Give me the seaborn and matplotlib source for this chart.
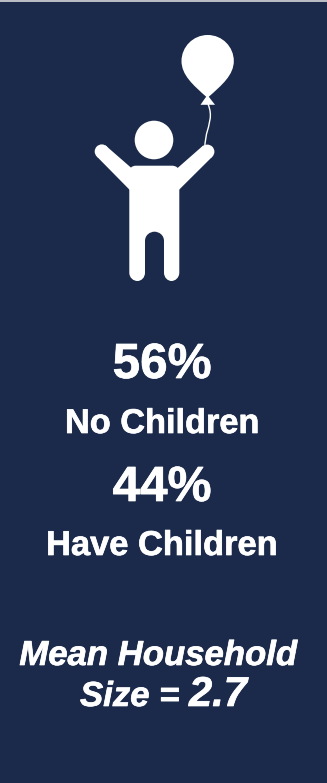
import matplotlib
matplotlib.use("Agg")
import matplotlib.pyplot as plt
import matplotlib.patheffects as pe
from matplotlib.patches import Circle, PathPatch, Polygon, Rectangle
from matplotlib.path import Path
import seaborn as sns

# Household figures shown on the panel
share_values = [56, 44]
share_labels = ["No Children", "Have Children"]
mean_household_size = 2.7

NAVY = "#1b2a4a"
WHITE = "#ffffff"

sns.set_theme(style="white")
plt.rcParams["font.family"] = ["Liberation Sans", "DejaVu Sans"]

fig = plt.figure(figsize=(3.27, 7.83), dpi=100, facecolor=NAVY)
ax = fig.add_axes([0, 0, 1, 1])
ax.set_xlim(0, 327)
ax.set_ylim(783, 0)
ax.set_facecolor(NAVY)
ax.axis("off")

# thin light rule along the top edge
ax.add_patch(Rectangle((0, 0), 327, 1.6, fc="#b9bcc2", ec="none"))


def blob(points, **kw):
    """Add a filled shape from (code, x, y) triples."""
    codes = [c for c, _, _ in points]
    verts = [(x, y) for _, x, y in points]
    ax.add_patch(PathPatch(Path(verts, codes), fc=WHITE, ec="none", **kw))


M, L, C, Z = Path.MOVETO, Path.LINETO, Path.CURVE4, Path.CLOSEPOLY

# child: head
ax.add_patch(Circle((154, 140), 19.3, fc=WHITE, ec="none"))

# child: raised arms, widening slightly towards the shoulders
ax.add_patch(Circle((101.8, 151.5), 7.1, fc=WHITE, ec="none"))
ax.add_patch(Polygon([(105.5, 145.4), (132, 168.5), (132, 192), (129.3, 189.5), (96.8, 156.5)],
                     closed=True, fc=WHITE, ec="none"))
ax.add_patch(Circle((207.3, 151.7), 7.1, fc=WHITE, ec="none"))
ax.add_patch(Polygon([(203.3, 145.4), (177, 168.5), (177, 192), (179.3, 189.5), (212.3, 156.7)],
                     closed=True, fc=WHITE, ec="none"))

# child: torso and legs with a rounded gap between them
blob([
    (M, 129.3, 172), (C, 129.3, 168), (C, 132, 165.7), (C, 136, 165.7),
    (L, 172, 165.7), (C, 176, 165.7), (C, 179.3, 168), (C, 179.3, 172),
    (L, 179.3, 272.5), (C, 179.3, 278), (C, 175, 281), (C, 171.5, 281),
    (C, 168, 281), (C, 164, 278), (C, 164, 272.5),
    (L, 164, 241), (C, 164, 235), (C, 159, 231.7), (C, 154.5, 231.7),
    (C, 150, 231.7), (C, 145, 235), (C, 145, 241),
    (L, 145, 272.5), (C, 145, 278), (C, 141, 281), (C, 137.5, 281),
    (C, 133.5, 281), (C, 129.3, 278), (C, 129.3, 272.5),
    (L, 129.3, 172), (Z, 129.3, 172),
])

# balloon body and knot
blob([
    (M, 207.7, 35), (C, 222.5, 35), (C, 233.8, 47), (C, 233.8, 61),
    (C, 233.8, 75), (C, 222, 85), (C, 208.5, 97),
    (L, 206.5, 97), (C, 193, 85), (C, 181.5, 75), (C, 181.5, 61),
    (C, 181.5, 47), (C, 193, 35), (C, 207.7, 35), (Z, 207.7, 35),
])
blob([
    (M, 207.5, 95), (L, 210.5, 99), (L, 215, 104.8), (L, 200.5, 104.8),
    (L, 204.5, 99), (L, 207.5, 95), (Z, 207.5, 95),
])

# balloon string
ax.add_patch(PathPatch(
    Path([(208, 104), (213, 116), (209, 124), (206.5, 134), (205.3, 140), (205, 145), (204.7, 147)],
         [M, C, C, C, C, C, C]),
    fc="none", ec=WHITE, lw=1.0,
))

# a hairline outline gives the type its heavier weight
heavy = [pe.withStroke(linewidth=0.5, foreground=WHITE)]
text_style = dict(color=WHITE, fontweight="bold", ha="center", va="baseline", path_effects=heavy)

# share figures with their captions
ax.text(162, 378, f"{share_values[0]}%", fontsize=35.6, **text_style)
ax.text(162, 433, share_labels[0], fontsize=24.7, **text_style)
ax.text(162, 501, f"{share_values[1]}%", fontsize=35.6, **text_style)
ax.text(162, 555, share_labels[1], fontsize=24.8, **text_style)

# mean household size line
italic = dict(color=WHITE, fontweight="bold", fontstyle="italic", va="baseline", path_effects=heavy)
ax.text(158.5, 665, "Mean Household", fontsize=25, ha="center", **italic)
ax.text(80, 706, "Size =", fontsize=25, ha="left", **italic)
ax.text(189, 706, f"{mean_household_size}", fontsize=30, ha="left", **italic)

fig.savefig("out.png", dpi=100, facecolor=NAVY)
